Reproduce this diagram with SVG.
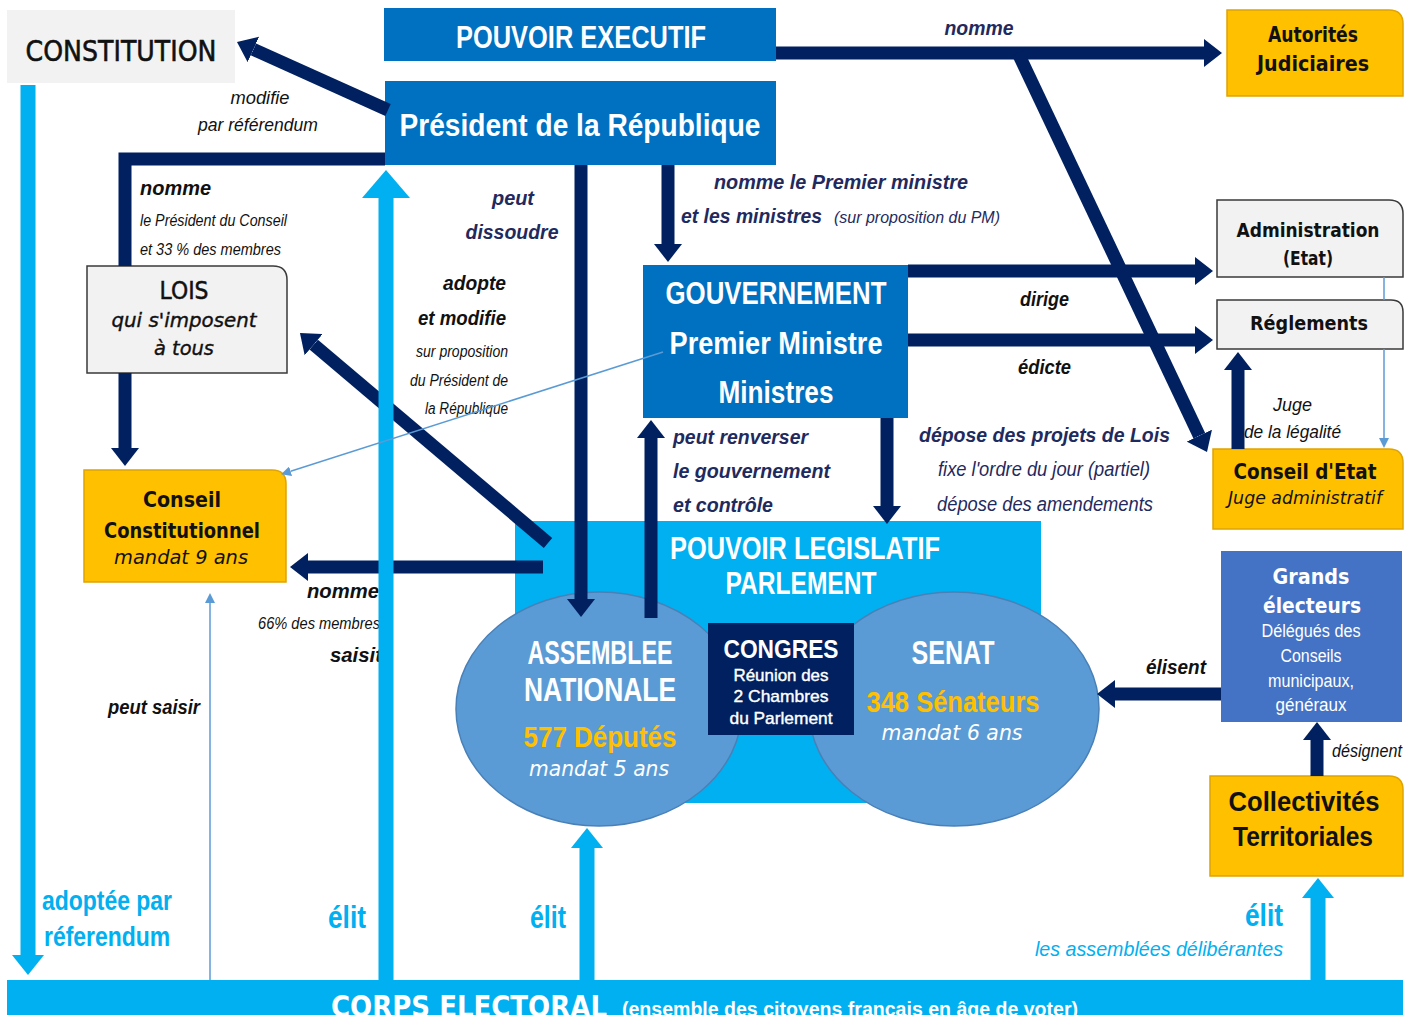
<svg xmlns="http://www.w3.org/2000/svg" width="1410" height="1015" viewBox="0 0 1410 1015">
<defs>
<style>
.cg{font-family:"DejaVu Sans","Liberation Sans",sans-serif}
.ls{font-family:"Liberation Sans",Arial,sans-serif}
.w{fill:#ffffff}
.k{fill:#111111}
.nv{fill:#1f2a5e}
.lb{fill:#00b0f0}
.yl{fill:#ffc000}
.b{font-weight:bold}
.i{font-style:italic}
.m{text-anchor:middle}
.e{text-anchor:end}
.blue{fill:#0070c0}
.grey{fill:#f2f2f2;stroke:#3a3a3a;stroke-width:1.5}
.orange{fill:#ffc000;stroke:#e0a400;stroke-width:1.5}
.navy{fill:none;stroke:#002060;stroke-width:13}
.sky{fill:none;stroke:#00b0f0;stroke-width:15}
.thin{fill:none;stroke:#5b9bd5;stroke-width:1.5}
</style>
<marker id="mN" markerUnits="userSpaceOnUse" markerWidth="18" markerHeight="28" viewBox="0 -14 18 28" refX="0" refY="0" orient="auto"><path d="M0,-14 L18,0 L0,14 Z" fill="#002060"/></marker>
<marker id="mB" markerUnits="userSpaceOnUse" markerWidth="20" markerHeight="32" viewBox="0 -16 20 32" refX="0" refY="0" orient="auto"><path d="M0,-16 L20,0 L0,16 Z" fill="#00b0f0"/></marker>
<marker id="mBB" markerUnits="userSpaceOnUse" markerWidth="28" markerHeight="48" viewBox="0 -24 28 48" refX="0" refY="0" orient="auto"><path d="M0,-24 L28,0 L0,24 Z" fill="#00b0f0"/></marker>
<marker id="mT" markerUnits="userSpaceOnUse" markerWidth="10" markerHeight="10" viewBox="0 -5 10 10" refX="0" refY="0" orient="auto"><path d="M0,-5 L10,0 L0,5 Z" fill="#5b9bd5"/></marker>
</defs>
<rect x="0" y="0" width="1410" height="1015" fill="#ffffff"/>

<g id="constitution">
<rect x="7" y="10" width="228" height="73" fill="#f2f2f2"/>
<text class="cg k m" x="121" y="61" font-size="29" stroke="#111111" stroke-width="0.6" textLength="191" lengthAdjust="spacingAndGlyphs">CONSTITUTION</text>
</g>

<g id="pouvoir-executif">
<rect class="blue" x="384" y="8" width="392" height="53"/>
<text class="ls w m b" x="581" y="48" font-size="32" textLength="250" lengthAdjust="spacingAndGlyphs">POUVOIR EXECUTIF</text>
</g>

<g id="president">
<rect class="blue" x="385" y="81" width="391" height="84"/>
<text class="ls w m b" x="580" y="136" font-size="31" textLength="361" lengthAdjust="spacingAndGlyphs">Président de la République</text>
</g>

<g id="autorites-judiciaires">
<path class="orange" d="M1227,10 H1389 Q1403,10 1403,24 V96 H1227 Z"/>
<text class="cg k m b" x="1313" y="42" font-size="21" textLength="90" lengthAdjust="spacingAndGlyphs">Autorités</text>
<text class="cg k m b" x="1313" y="71" font-size="21" textLength="112" lengthAdjust="spacingAndGlyphs">Judiciaires</text>
</g>

<g id="lois">
<path class="grey" d="M87,266 H273 Q287,266 287,280 V373 H87 Z"/>
<text class="cg k m" x="184" y="299" font-size="24" stroke="#111111" stroke-width="0.5" textLength="49" lengthAdjust="spacingAndGlyphs">LOIS</text>
<text class="cg k m i" x="184" y="327" font-size="20" stroke="#111111" stroke-width="0.4" textLength="145" lengthAdjust="spacingAndGlyphs">qui s'imposent</text>
<text class="cg k m i" x="184" y="355" font-size="20" stroke="#111111" stroke-width="0.4" textLength="60" lengthAdjust="spacingAndGlyphs">à tous</text>
</g>

<g id="conseil-constitutionnel">
<path class="orange" d="M84,470 H272 Q286,470 286,484 V582 H84 Z"/>
<text class="cg k m b" x="182" y="507" font-size="22" textLength="78" lengthAdjust="spacingAndGlyphs">Conseil</text>
<text class="cg k m b" x="182" y="538" font-size="22" textLength="156" lengthAdjust="spacingAndGlyphs">Constitutionnel</text>
<text class="cg k m i" x="181" y="564" font-size="20" textLength="134" lengthAdjust="spacingAndGlyphs">mandat 9 ans</text>
</g>

<g id="gouvernement">
<rect class="blue" x="643" y="265" width="265" height="153"/>
<text class="ls w m b" x="776" y="304" font-size="31" textLength="221" lengthAdjust="spacingAndGlyphs">GOUVERNEMENT</text>
<text class="ls w m b" x="776" y="354" font-size="31" textLength="213" lengthAdjust="spacingAndGlyphs">Premier Ministre</text>
<text class="ls w m b" x="776" y="403" font-size="31" textLength="115" lengthAdjust="spacingAndGlyphs">Ministres</text>
</g>

<g id="administration">
<path class="grey" d="M1217,200 H1389 Q1403,200 1403,214 V277 H1217 Z"/>
<text class="cg k m b" x="1308" y="237" font-size="20" textLength="143" lengthAdjust="spacingAndGlyphs">Administration</text>
<text class="cg k m b" x="1308" y="265" font-size="20" textLength="50" lengthAdjust="spacingAndGlyphs">(Etat)</text>
</g>

<g id="reglements">
<path class="grey" d="M1217,300 H1391 Q1403,300 1403,312 V349 H1217 Z"/>
<text class="cg k m b" x="1309" y="330" font-size="20" textLength="118" lengthAdjust="spacingAndGlyphs">Réglements</text>
</g>

<g id="conseil-etat">
<path class="orange" d="M1213,449 H1389 Q1403,449 1403,463 V529 H1213 Z"/>
<text class="cg k m b" x="1305" y="479" font-size="22" textLength="143" lengthAdjust="spacingAndGlyphs">Conseil d'Etat</text>
<text class="cg k m i" x="1305" y="504" font-size="17" textLength="154" lengthAdjust="spacingAndGlyphs">Juge administratif</text>
</g>

<g id="pouvoir-legislatif">
<rect x="515" y="521" width="526" height="282" fill="#00b0f0"/>
<text class="ls w m b" x="805" y="559" font-size="31" textLength="270" lengthAdjust="spacingAndGlyphs">POUVOIR LEGISLATIF</text>
<text class="ls w m b" x="801" y="594" font-size="31" textLength="151" lengthAdjust="spacingAndGlyphs">PARLEMENT</text>
</g>

<g id="assemblee-nationale">
<ellipse cx="599" cy="709" rx="143" ry="117" fill="#5b9bd5" stroke="#4a80b8" stroke-width="1.5"/>
<text class="ls w m b" x="600" y="664" font-size="33" textLength="145" lengthAdjust="spacingAndGlyphs">ASSEMBLEE</text>
<text class="ls w m b" x="600" y="701" font-size="33" textLength="152" lengthAdjust="spacingAndGlyphs">NATIONALE</text>
<text class="ls yl m b" x="600" y="747" font-size="29" textLength="153" lengthAdjust="spacingAndGlyphs">577 Députés</text>
<text class="cg w m i" x="599" y="776" font-size="21" textLength="140" lengthAdjust="spacingAndGlyphs">mandat 5 ans</text>
</g>

<g id="senat">
<ellipse cx="954" cy="709" rx="145" ry="117" fill="#5b9bd5" stroke="#4a80b8" stroke-width="1.5"/>
<text class="ls w m b" x="953" y="664" font-size="33" textLength="83" lengthAdjust="spacingAndGlyphs">SENAT</text>
<text class="ls yl m b" x="953" y="712" font-size="29" textLength="173" lengthAdjust="spacingAndGlyphs">348 Sénateurs</text>
<text class="cg w m i" x="952" y="740" font-size="21" textLength="141" lengthAdjust="spacingAndGlyphs">mandat 6 ans</text>
</g>

<g id="congres">
<rect x="708" y="623" width="146" height="112" fill="#002060"/>
<text class="ls w m b" x="781" y="658" font-size="26" textLength="115" lengthAdjust="spacingAndGlyphs">CONGRES</text>
<text class="ls w m" x="781" y="681" font-size="17" stroke="#ffffff" stroke-width="0.4" textLength="95" lengthAdjust="spacingAndGlyphs">Réunion des</text>
<text class="ls w m" x="781" y="702" font-size="17" stroke="#ffffff" stroke-width="0.4" textLength="95" lengthAdjust="spacingAndGlyphs">2 Chambres</text>
<text class="ls w m" x="781" y="724" font-size="17" stroke="#ffffff" stroke-width="0.4" textLength="103" lengthAdjust="spacingAndGlyphs">du Parlement</text>
</g>

<g id="grands-electeurs">
<rect x="1221" y="551" width="181" height="171" fill="#4472c4"/>
<text class="cg w m b" x="1311" y="584" font-size="22" textLength="77" lengthAdjust="spacingAndGlyphs">Grands</text>
<text class="cg w m b" x="1312" y="613" font-size="22" textLength="98" lengthAdjust="spacingAndGlyphs">électeurs</text>
<text class="ls w m" x="1311" y="637" font-size="18" textLength="99" lengthAdjust="spacingAndGlyphs">Délégués des</text>
<text class="ls w m" x="1311" y="662" font-size="18" textLength="61" lengthAdjust="spacingAndGlyphs">Conseils</text>
<text class="ls w m" x="1311" y="687" font-size="18" textLength="86" lengthAdjust="spacingAndGlyphs">municipaux,</text>
<text class="ls w m" x="1311" y="711" font-size="18" textLength="71" lengthAdjust="spacingAndGlyphs">généraux</text>
</g>

<g id="collectivites-territoriales">
<path class="orange" d="M1210,776 H1389 Q1403,776 1403,790 V876 H1210 Z"/>
<text class="ls k m b" x="1304" y="811" font-size="28" textLength="151" lengthAdjust="spacingAndGlyphs">Collectivités</text>
<text class="ls k m b" x="1303" y="846" font-size="28" textLength="140" lengthAdjust="spacingAndGlyphs">Territoriales</text>
</g>

<g id="corps-electoral">
<rect x="7" y="980" width="1396" height="40" fill="#00b0f0"/>
<text class="cg w b" x="331" y="1017" font-size="30" textLength="276" lengthAdjust="spacingAndGlyphs">CORPS ELECTORAL</text>
<text class="ls w b" x="622" y="1016" font-size="20" textLength="456" lengthAdjust="spacingAndGlyphs">(ensemble des citoyens français en âge de voter)</text>
</g>

<g id="labels">
<text class="ls nv b i" x="979" y="35" font-size="20" text-anchor="middle" textLength="69" lengthAdjust="spacingAndGlyphs">nomme</text>
<text class="ls k i" x="260" y="104" font-size="18" text-anchor="middle" textLength="59" lengthAdjust="spacingAndGlyphs">modifie</text>
<text class="ls k i" x="258" y="131" font-size="18" text-anchor="middle" textLength="120" lengthAdjust="spacingAndGlyphs">par référendum</text>
<text class="ls k b i" x="140" y="195" font-size="21" textLength="71" lengthAdjust="spacingAndGlyphs">nomme</text>
<text class="ls k i" x="140" y="226" font-size="16" textLength="147" lengthAdjust="spacingAndGlyphs">le Président du Conseil</text>
<text class="ls k i" x="140" y="255" font-size="16" textLength="141" lengthAdjust="spacingAndGlyphs">et 33 % des membres</text>
<text class="ls nv b i" x="513" y="205" font-size="21" text-anchor="middle" textLength="42" lengthAdjust="spacingAndGlyphs">peut</text>
<text class="ls nv b i" x="512" y="239" font-size="21" text-anchor="middle" textLength="93" lengthAdjust="spacingAndGlyphs">dissoudre</text>
<text class="ls nv b i" x="714" y="189" font-size="20" textLength="254" lengthAdjust="spacingAndGlyphs">nomme le Premier ministre</text>
<text class="ls nv b i" x="681" y="223" font-size="20" textLength="141" lengthAdjust="spacingAndGlyphs">et les ministres</text>
<text class="ls nv i" x="834" y="223" font-size="16" textLength="166" lengthAdjust="spacingAndGlyphs">(sur proposition du PM)</text>
<text class="ls k b i e" x="506" y="290" font-size="20" textLength="63" lengthAdjust="spacingAndGlyphs">adopte</text>
<text class="ls k b i e" x="506" y="325" font-size="20" textLength="88" lengthAdjust="spacingAndGlyphs">et modifie</text>
<text class="ls k i e" x="508" y="357" font-size="16" textLength="92" lengthAdjust="spacingAndGlyphs">sur proposition</text>
<text class="ls k i e" x="508" y="386" font-size="16" textLength="98" lengthAdjust="spacingAndGlyphs">du Président de</text>
<text class="ls k i e" x="508" y="414" font-size="16" textLength="83" lengthAdjust="spacingAndGlyphs">la République</text>
<text class="ls k b i" x="1020" y="306" font-size="20" textLength="49" lengthAdjust="spacingAndGlyphs">dirige</text>
<text class="ls k b i" x="1018" y="374" font-size="20" textLength="53" lengthAdjust="spacingAndGlyphs">édicte</text>
<text class="ls k i" x="1273" y="411" font-size="18" textLength="39" lengthAdjust="spacingAndGlyphs">Juge</text>
<text class="ls k i" x="1244" y="438" font-size="18" textLength="97" lengthAdjust="spacingAndGlyphs">de la légalité</text>
<text class="ls nv b i" x="673" y="444" font-size="21" textLength="135" lengthAdjust="spacingAndGlyphs">peut renverser</text>
<text class="ls nv b i" x="673" y="478" font-size="21" textLength="157" lengthAdjust="spacingAndGlyphs">le gouvernement</text>
<text class="ls nv b i" x="673" y="512" font-size="21" textLength="100" lengthAdjust="spacingAndGlyphs">et contrôle</text>
<text class="ls nv b i" x="919" y="442" font-size="21" textLength="251" lengthAdjust="spacingAndGlyphs">dépose des projets de Lois</text>
<text class="ls nv i" x="938" y="476" font-size="20" textLength="212" lengthAdjust="spacingAndGlyphs">fixe l'ordre du jour (partiel)</text>
<text class="ls nv i" x="937" y="511" font-size="20" textLength="216" lengthAdjust="spacingAndGlyphs">dépose des amendements</text>
<text class="ls k b i" x="307" y="598" font-size="21" textLength="72" lengthAdjust="spacingAndGlyphs">nomme</text>
<text class="ls k i" x="258" y="629" font-size="16" textLength="122" lengthAdjust="spacingAndGlyphs">66% des membres</text>
<text class="ls k b i" x="330" y="662" font-size="21" textLength="52" lengthAdjust="spacingAndGlyphs">saisit</text>
<text class="ls k b i" x="108" y="714" font-size="20" textLength="92" lengthAdjust="spacingAndGlyphs">peut saisir</text>
<text class="ls k b i" x="1146" y="674" font-size="20" textLength="60" lengthAdjust="spacingAndGlyphs">élisent</text>
<text class="ls k i" x="1332" y="757" font-size="18" textLength="70" lengthAdjust="spacingAndGlyphs">désignent</text>
<text class="ls lb b" x="42" y="910" font-size="28" textLength="130" lengthAdjust="spacingAndGlyphs">adoptée par</text>
<text class="ls lb b" x="44" y="946" font-size="28" textLength="126" lengthAdjust="spacingAndGlyphs">réferendum</text>
<text class="ls lb b" x="328" y="928" font-size="31" textLength="38" lengthAdjust="spacingAndGlyphs">élit</text>
<text class="ls lb b" x="530" y="928" font-size="31" textLength="36" lengthAdjust="spacingAndGlyphs">élit</text>
<text class="ls lb b" x="1245" y="926" font-size="31" textLength="38" lengthAdjust="spacingAndGlyphs">élit</text>
<text class="ls lb i" x="1035" y="956" font-size="21" textLength="248" lengthAdjust="spacingAndGlyphs">les assemblées délibérantes</text>
</g>

<g id="connectors">
<path class="navy" d="M776,53 H1204" marker-end="url(#mN)"/>
<path class="navy" d="M1018,53 L1199.3,435.7" marker-end="url(#mN)"/>
<path class="navy" d="M388,110 L253.4,49.4" marker-end="url(#mN)"/>
<path class="navy" d="M385,159 H125 V266"/>
<path class="navy" d="M125,373 V448" marker-end="url(#mN)"/>
<path class="navy" d="M581,165 V599" marker-end="url(#mN)"/>
<path class="navy" d="M668,165 V244" marker-end="url(#mN)"/>
<path class="navy" d="M908,271 H1195" marker-end="url(#mN)"/>
<path class="navy" d="M908,340 H1195" marker-end="url(#mN)"/>
<path class="navy" d="M887,418 V506" marker-end="url(#mN)"/>
<path class="navy" d="M651,618 V438" marker-end="url(#mN)"/>
<path class="navy" d="M548,543 L313.7,344.6" marker-end="url(#mN)"/>
<path class="navy" d="M543,567 H308" marker-end="url(#mN)"/>
<path class="navy" d="M1238,449 V370" marker-end="url(#mN)"/>
<path class="navy" d="M1221,694 H1115" marker-end="url(#mN)"/>
<path class="navy" d="M1317,776 V740" marker-end="url(#mN)"/>
<path class="sky" d="M28,85 V955" marker-end="url(#mB)"/>
<path class="sky" d="M386,980 V198" stroke-width="25" marker-end="url(#mBB)"/>
<path class="sky" d="M587,980 V848" marker-end="url(#mB)"/>
<path class="sky" d="M1318,980 V898" marker-end="url(#mB)"/>
<path class="thin" d="M663,352 L290.6,471.3" marker-end="url(#mT)"/>
<path class="thin" d="M210,980 V603" marker-end="url(#mT)"/>
<path class="thin" d="M1384,277 V300"/>
<path class="thin" d="M1384,349 V438" marker-end="url(#mT)"/>
</g>
</svg>
